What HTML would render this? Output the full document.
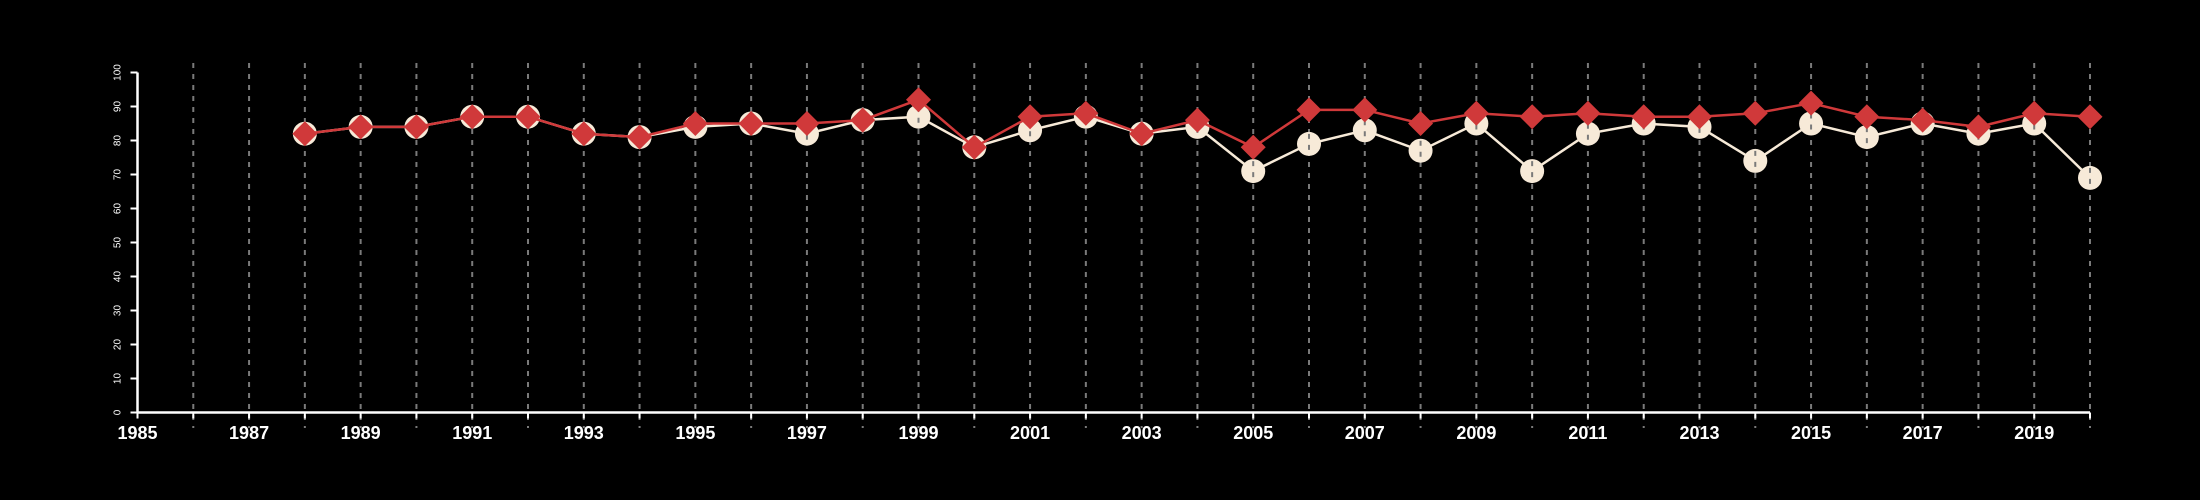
<!DOCTYPE html>
<html><head><meta charset="utf-8">
<style>
html,body{margin:0;padding:0;background:#000;}
svg{display:block;}
text{font-family:"Liberation Sans",sans-serif;fill:#fff;}
</style></head>
<body>
<svg id="chart" width="2200" height="500" xmlns="http://www.w3.org/2000/svg">
<rect width="2200" height="500" fill="#000"/>
</svg>
<script>
const years = [1988,1989,1990,1991,1992,1993,1994,1995,1996,1997,1998,1999,2000,2001,2002,2003,2004,2005,2006,2007,2008,2009,2010,2011,2012,2013,2014,2015,2016,2017,2018,2019,2020];
const whiteSeries = [82,84,84,87,87,82,81,84,85,82,86,87,78,83,87,82,84,71,79,83,77,85,71,82,85,84,74,85,81,85,82,85,69];
const redSeries = [82,84,84,87,87,82,81,85,85,85,86,92,78,87,88,82,86,78,89,89,85,88,87,88,87,87,88,91,87,86,84,88,87];
const yTicks = [0,10,20,30,40,50,60,70,80,90,100];
const xLabelYears = [1985,1987,1989,1991,1993,1995,1997,1999,2001,2003,2005,2007,2009,2011,2013,2015,2017,2019];
const xMin = 1985, xMax = 2020;

const svg = document.getElementById('chart');
const NS = 'http://www.w3.org/2000/svg';
const x0 = 137.5, x1 = 2090, y0 = 412.5, y1 = 72.5;
function xs(v){ return x0 + (v - xMin) / (xMax - xMin) * (x1 - x0); }
function ys(v){ return y0 - v / 100 * (y0 - y1); }
function mk(tag, attrs){ const e = document.createElementNS(NS, tag); for (const k in attrs) e.setAttribute(k, attrs[k]); svg.appendChild(e); return e; }

for (let y = xMin + 1; y <= xMax; y++) {
  const g = mk('line', {x1: xs(y), x2: xs(y), y1: 63, y2: 428, stroke: '#7a7a7a', 'stroke-width': 2, 'stroke-dasharray': '5,6'});
  
  
}
const ya = mk('line', {x1: x0, x2: x0, y1: ys(0), y2: ys(100), stroke: '#fff', 'stroke-width': 2.5});


yTicks.forEach(t => {
  const tk = mk('line', {x1: x0 - 7, x2: x0, y1: ys(t), y2: ys(t), stroke: '#fff', 'stroke-width': 2});
  
  
  const tx = mk('text', {x: 0, y: 0, 'font-size': 10, 'text-anchor': 'middle', transform: 'translate(' + (x0 - 17) + ',' + ys(t) + ') rotate(-90)'});
  tx.textContent = t;
  
  
});
const xa = mk('line', {x1: x0, x2: x1, y1: y0, y2: y0, stroke: '#fff', 'stroke-width': 2.5});


for (let y = xMin; y <= xMax; y++) {
  const tk = mk('line', {x1: xs(y), x2: xs(y), y1: y0, y2: y0 + 6, stroke: '#fff', 'stroke-width': 2});
  
  
}
xLabelYears.forEach(y => {
  const tx = mk('text', {x: xs(y), y: 439, 'font-size': 18, 'font-weight': 'bold', 'text-anchor': 'middle'});
  tx.textContent = y;
  
  
});
const wl = mk('polyline', {points: years.map((y,i) => xs(y) + ',' + ys(whiteSeries[i])).join(' '), fill: 'none', stroke: '#f7ead8', 'stroke-width': 2.5});


years.forEach((y,i) => {
  const c = mk('circle', {cx: xs(y), cy: ys(whiteSeries[i]), r: 12, fill: '#f7ead8'});
  
  
});
years.forEach((y,i) => {
  const g = mk('line', {x1: xs(y), x2: xs(y), y1: ys(whiteSeries[i]) - 10, y2: ys(whiteSeries[i]) + 10, stroke: '#7a7a7a', 'stroke-width': 2, 'stroke-dasharray': '5,6'});
  
  
});
const rl = mk('polyline', {points: years.map((y,i) => xs(y) + ',' + ys(redSeries[i])).join(' '), fill: 'none', stroke: '#d0393a', 'stroke-width': 2.5});


years.forEach((y,i) => {
  const cx = xs(y), cy = ys(redSeries[i]), d = 12.5;
  const p = mk('polygon', {points: cx + ',' + (cy - d) + ' ' + (cx + d) + ',' + cy + ' ' + cx + ',' + (cy + d) + ' ' + (cx - d) + ',' + cy, fill: '#d0393a'});
  
  
});
</script>
</body></html>
